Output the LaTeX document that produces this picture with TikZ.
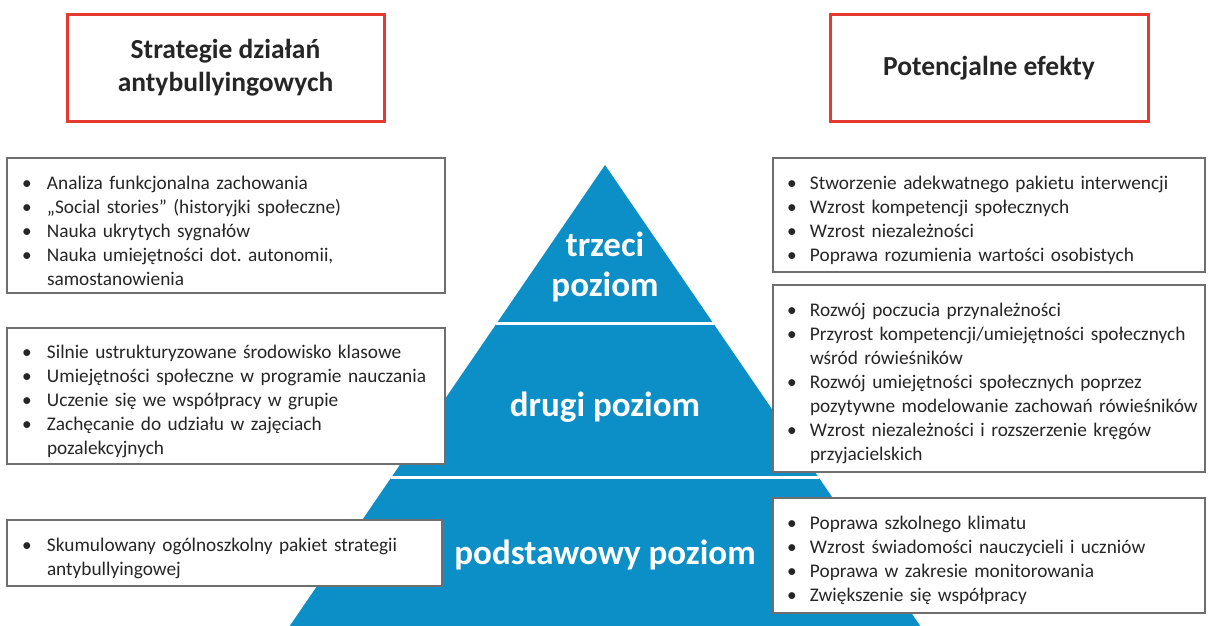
\documentclass[tikz,border=0pt]{standalone}
\usepackage{fontspec}
\setmainfont{Carlito}
\frenchspacing
\definecolor{pyr}{HTML}{0B8FC6}
\definecolor{redb}{HTML}{E53A30}
\definecolor{grayb}{HTML}{6E6E6E}
\definecolor{txt}{HTML}{262626}
\newcommand{\bitemL}[1]{\par\noindent\makebox[25pt][l]{\textbullet}\mbox{#1}}
\newcommand{\bcontL}[1]{\par\noindent\hspace*{25pt}\mbox{#1}}
\newcommand{\bitemR}[1]{\par\noindent\makebox[23pt][l]{\textbullet}\mbox{#1}}
\newcommand{\bcontR}[1]{\par\noindent\hspace*{23pt}\mbox{#1}}
\begin{document}
\begin{tikzpicture}[x=1pt,y=-1pt,
  listbox/.style={draw=grayb, line width=1.3pt, fill=white, inner ysep=0pt, align=left,
    font=\fontsize{19.3}{24}\selectfont, text=txt},
  leftbox/.style={listbox, inner xsep=15pt, minimum width=#1, text width=#1-30pt},
  rightbox/.style={listbox, inner xsep=14pt, minimum width=432pt, text width=404pt},
  titlebox/.style={draw=redb, line width=3pt, fill=white, align=center, text=txt,
    font=\bfseries\fontsize{27.5}{33}\selectfont, minimum height=106pt},
  pyrlabel/.style={text=white, align=center, font=\bfseries\fontsize{35}{40}\selectfont}
]
\useasboundingbox (0,0) rectangle (1208,626);
\fill[white] (0,0) rectangle (1208,626);

% pyramid
\fill[pyr] (605,165) -- (920.3,626) -- (289.7,626) -- cycle;
\draw[white, line width=3pt] (496,323) -- (714,323);
\draw[white, line width=3pt] (391,477) -- (819,477);
\node[pyrlabel] (l3) at (605,267) {trzeci\\poziom};
\node[pyrlabel] (l2) at (605,407) {drugi poziom};
\node[pyrlabel] (l1) at (605,555) {podstawowy poziom};

% titles
\node[titlebox, minimum width=317pt] (t1) at (225.5,68) {Strategie działań\\antybullyingowych};
\node[titlebox, minimum width=318pt] (t2) at (989,68) {Potencjalne efekty};

% left boxes
\node[leftbox=438pt, minimum height=135pt] (s3) at (226,225.5) {%
\bitemL{Analiza funkcjonalna zachowania}
\bitemL{„Social stories” (historyjki społeczne)}
\bitemL{Nauka ukrytych sygnałów}
\bitemL{Nauka umiejętności dot. autonomii,}
\bcontL{samostanowienia}};
\node[leftbox=438pt, minimum height=136pt] (s2) at (226,396) {%
\bitemL{Silnie ustrukturyzowane środowisko klasowe}
\bitemL{Umiejętności społeczne w programie nauczania}
\bitemL{Uczenie się we współpracy w grupie}
\bitemL{Zachęcanie do udziału w zajęciach}
\bcontL{pozalekcyjnych}};
\node[leftbox=435pt, minimum height=66pt] (s1) at (224.5,553) {%
\bitemL{Skumulowany ogólnoszkolny pakiet strategii}
\bcontL{antybullyingowej}};

% right boxes
\node[rightbox, minimum height=114pt] (e3) at (989,215) {%
\bitemR{Stworzenie adekwatnego pakietu interwencji}
\bitemR{Wzrost kompetencji społecznych}
\bitemR{Wzrost niezależności}
\bitemR{Poprawa rozumienia wartości osobistych}};
\node[rightbox, minimum height=187pt] (e2) at (989,378.5) {%
\bitemR{Rozwój poczucia przynależności}
\bitemR{Przyrost kompetencji/umiejętności społecznych}
\bcontR{wśród rówieśników}
\bitemR{Rozwój umiejętności społecznych poprzez}
\bcontR{pozytywne modelowanie zachowań rówieśników}
\bitemR{Wzrost niezależności i rozszerzenie kręgów}
\bcontR{przyjacielskich}};
\node[rightbox, minimum height=115pt] (e1) at (989,555.5) {%
\bitemR{Poprawa szkolnego klimatu}
\bitemR{Wzrost świadomości nauczycieli i uczniów}
\bitemR{Poprawa w zakresie monitorowania}
\bitemR{Zwiększenie się współpracy}};
\end{tikzpicture}
\end{document}
